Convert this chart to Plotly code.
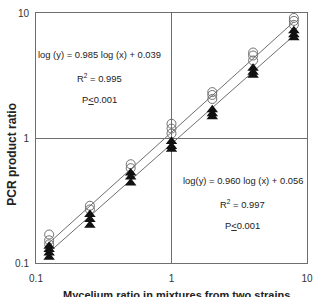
import plotly.graph_objects as go

# Data
x_levels = [0.125, 0.25, 0.5, 1, 2, 4, 8]
circle_x = [0.125]*3 + [0.25]*2 + [0.5]*2 + [1]*3 + [2]*3 + [4]*3 + [8]*3
circle_y = [0.169, 0.152, 0.141,
            0.287, 0.268,
            0.617, 0.574,
            1.30, 1.19, 1.086,
            2.33, 2.21, 2.05,
            4.83, 4.57, 4.17,
            9.13, 8.65, 8.04]
tri_x = [0.125]*4 + [0.25]*3 + [0.5]*3 + [1]*3 + [2]*3 + [4]*3 + [8]*3
tri_y = [0.136, 0.128, 0.120, 0.111,
         0.244, 0.223, 0.200,
         0.524, 0.487, 0.436,
         0.937, 0.857, 0.811,
         1.68, 1.56, 1.48,
         3.61, 3.36, 3.18,
         7.21, 6.70, 6.34]
upper_line_x = [0.125, 8]
upper_line_y = [0.145, 8.5]
lower_line_x = [0.125, 8]
lower_line_y = [0.122, 6.6]

tick_vals = [0.1, 1, 10]
tick_text = ["0.1", "1", "10"]

FONT = "Liberation Sans, Arial, sans-serif"
GRAY = "#6e6e6e"

fig = go.Figure()
fig.add_trace(go.Scatter(x=upper_line_x, y=upper_line_y, mode="lines",
                         line=dict(color=GRAY, width=1), showlegend=False))
fig.add_trace(go.Scatter(x=lower_line_x, y=lower_line_y, mode="lines",
                         line=dict(color=GRAY, width=1), showlegend=False))
fig.add_trace(go.Scatter(x=circle_x, y=circle_y, mode="markers",
                         marker=dict(symbol="circle-open", size=9, color="#707070",
                                     line=dict(width=1)), showlegend=False))
fig.add_trace(go.Scatter(x=tri_x, y=tri_y, mode="markers",
                         marker=dict(symbol="triangle-up", size=10, color="#111111"),
                         showlegend=False))

axis_common = dict(type="log", tickvals=tick_vals, ticktext=tick_text,
                   showgrid=True, gridcolor=GRAY, gridwidth=1,
                   showline=True, linecolor=GRAY, linewidth=1, mirror=True,
                   ticks="", zeroline=False,
                   tickfont=dict(family=FONT, size=10, color="#333333"))

fig.update_xaxes(range=[-1, 1], ticklabelstandoff=6, **axis_common)
fig.update_yaxes(range=[-1, 1], ticklabelstandoff=4, **axis_common)

ann_font = dict(family=FONT, size=9.4, color="#222222")
anns = [
    (0.233, 0.833, "log (y) = 0.985 log (x) + 0.039"),
    (0.233, 0.742, "R<sup>2</sup> = 0.995"),
    (0.233, 0.655, "P<u>&lt;</u>0.001"),
    (0.762, 0.328, "log(y) = 0.960 log (x) + 0.056"),
    (0.762, 0.237, "R<sup>2</sup> = 0.997"),
    (0.762, 0.150, "P<u>&lt;</u>0.001"),
]
annotations = [dict(x=ax, y=ay, xref="paper", yref="paper", text=t, showarrow=False,
                    xanchor="center", yanchor="middle",
                    font=ann_font, bgcolor="white", borderpad=0) for ax, ay, t in anns]
annotations.append(dict(x=0.52, y=-0.126, xref="paper", yref="paper",
                        text="<b>Mycelium ratio in mixtures from two strains</b>",
                        showarrow=False, xanchor="center", yanchor="middle",
                        font=dict(family=FONT, size=11, color="#222222")))
annotations.append(dict(x=-0.087, y=0.435, xref="paper", yref="paper",
                        text="<b>PCR product ratio</b>", textangle=-90,
                        showarrow=False, xanchor="center", yanchor="middle",
                        font=dict(family=FONT, size=12, color="#222222")))

fig.update_layout(width=320, height=297,
                  margin=dict(l=36, r=7, t=10, b=34),
                  plot_bgcolor="white", paper_bgcolor="white",
                  annotations=annotations)

fig.write_html("out.html")
